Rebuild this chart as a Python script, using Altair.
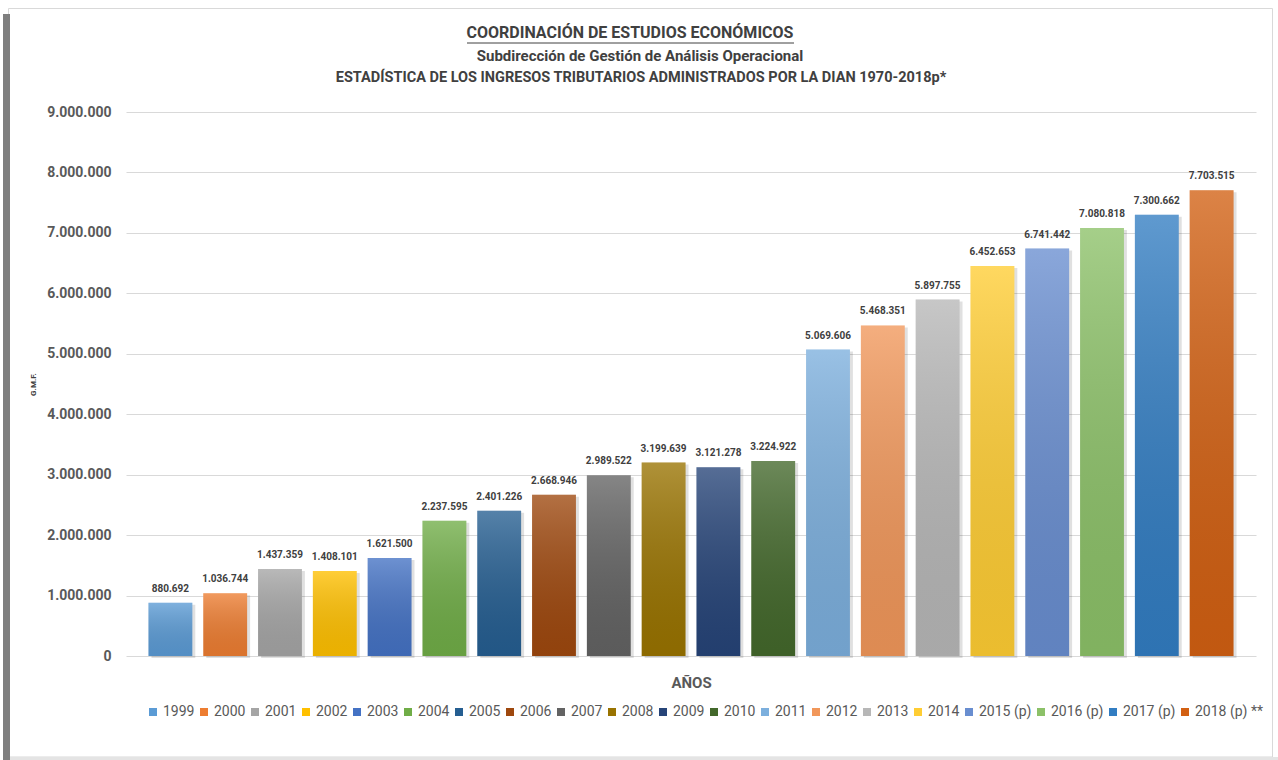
import altair as alt
import pandas as pd

YEARS = ["1999", "2000", "2001", "2002", "2003", "2004", "2005", "2006", "2007", "2008",
         "2009", "2010", "2011", "2012", "2013", "2014", "2015", "2016", "2017", "2018"]
LABELS = ["1999", "2000", "2001", "2002", "2003", "2004", "2005", "2006", "2007", "2008",
          "2009", "2010", "2011", "2012", "2013", "2014", "2015 (p)", "2016 (p)", "2017 (p)",
          "2018 (p) **"]
VALUES = [880692, 1036744, 1437359, 1408101, 1621500, 2237595, 2401226, 2668946, 2989522,
          3199639, 3121278, 3224922, 5069606, 5468351, 5897755, 6452653, 6741442, 7080818,
          7300662, 7703515]
COLORS = ["#5B9BD5", "#ED7D31", "#A5A5A5", "#FFC000", "#4472C4", "#70AD47", "#255E91",
          "#9E480E", "#636363", "#997300", "#264478", "#43682B", "#7CAFDD", "#F1975A",
          "#B7B7B7", "#FFCD33", "#698ED0", "#8CC168", "#327DC2", "#D26012"]
TITLE_LINES = ["COORDINACIÓN DE ESTUDIOS ECONÓMICOS",
               "Subdirección de Gestión de Análisis Operacional",
               "ESTADÍSTICA DE LOS INGRESOS TRIBUTARIOS ADMINISTRADOS POR LA DIAN 1970-2018p*"]
Y_TICKS = [0, 1000000, 2000000, 3000000, 4000000, 5000000, 6000000, 7000000, 8000000, 9000000]


def fmt(v):
    return f"{v:,}".replace(",", ".")


df = pd.DataFrame({"year": YEARS, "label": LABELS, "value": VALUES,
                   "text": [fmt(v) for v in VALUES]})

FONT = "Roboto, Liberation Sans, sans-serif"
W, H = 1130, 544
OX, OY = 126, 112  # plot origin on the page

x = alt.X("year:N", sort=YEARS,
          scale=alt.Scale(paddingInner=0.2, paddingOuter=0.41),
          axis=alt.Axis(labels=False, ticks=False, domain=False, title="AÑOS",
                        titleFont=FONT, titleFontSize=15, titleFontWeight="bold",
                        titleColor="#595959", titlePadding=19))
y = alt.Y("value:Q", scale=alt.Scale(domain=[0, 9000000], nice=False),
          axis=alt.Axis(values=Y_TICKS,
                        labelExpr="replace(replace(format(datum.value, ','), ',', '.'), ',', '.')",
                        labelFont=FONT, labelFontSize=14, labelFontWeight="bold",
                        labelColor="#595959", labelPadding=15, ticks=False, domain=False,
                        gridColor="#D9D9D9", gridWidth=1,
                        title="G.M.F.", titleFont=FONT, titleFontSize=8,
                        titleFontWeight="bold", titleColor="#404040",
                        titleX=37 - OX, titleY=272))

base = alt.Chart(df)

shadow = base.mark_bar(color="#000000", opacity=0.12, xOffset=3, x2Offset=3, yOffset=2).encode(x=x, y=y)

bars = base.mark_bar().encode(
    x=x, y=y,
    color=alt.Color("label:N", sort=LABELS,
                    scale=alt.Scale(domain=LABELS, range=COLORS),
                    legend=alt.Legend(orient="none", legendX=20, legendY=593,
                                      direction="horizontal", columns=20, title=None,
                                      symbolType="square", symbolSize=64,
                                      symbolStrokeWidth=0, labelFont=FONT,
                                      labelFontSize=14, labelColor="#595959",
                                      labelOffset=3, columnPadding=2, padding=0)))

overlay = base.mark_bar(color=alt.Gradient(
    gradient="linear", x1=0, y1=0, x2=0, y2=1,
    stops=[alt.GradientStop(offset=0, color="rgba(255,255,255,0.22)"),
           alt.GradientStop(offset=1, color="rgba(0,0,0,0.08)")])).encode(x=x, y=y)

labels = base.mark_text(dy=-11, baseline="alphabetic", font=FONT, fontSize=10,
                        fontWeight="bold", color="#404040").encode(x=x, y=y, text="text:N")

one = pd.DataFrame({"k": [0]})
deco = alt.Chart(one)

bounds = deco.mark_rect(opacity=0).encode(
    x=alt.value(-OX), x2=alt.value(1278 - OX), y=alt.value(-OY), y2=alt.value(760 - OY))
frame = deco.mark_rect(filled=False, stroke="#D9D9D9", strokeWidth=1).encode(
    x=alt.value(8.5 - OX), x2=alt.value(1272.5 - OX), y=alt.value(8.5 - OY), y2=alt.value(757 - OY))
bottom_band = deco.mark_rect(color="#E4E4E4").encode(
    x=alt.value(10 - OX), x2=alt.value(1278 - OX), y=alt.value(757 - OY), y2=alt.value(760 - OY))
strip = deco.mark_rect(color="#7F7F7F").encode(
    x=alt.value(3 - OX), x2=alt.value(10 - OX), y=alt.value(14 - OY), y2=alt.value(760 - OY))

title_layers = []
for line, xx, yy, fs in zip(TITLE_LINES, [630, 640, 641], [33, 56, 78], [16, 15, 14.5]):
    title_layers.append(
        deco.mark_text(font=FONT, fontSize=fs, fontWeight="bold", color="#404040",
                       align="center", baseline="middle").encode(
            x=alt.value(xx - OX), y=alt.value(yy - OY), text=alt.value(line)))

underline = deco.mark_rule(color="#404040", strokeWidth=1).encode(
    x=alt.value(467 - OX), x2=alt.value(794 - OX), y=alt.value(43 - OY))

chart = alt.layer(bounds, frame, bottom_band, strip, shadow, bars, overlay, labels,
                  *title_layers, underline).properties(
    width=W, height=H, padding=0, background="white"
).configure_view(stroke=None)

chart.save("out.html", embed_options={"renderer": "svg", "actions": False})
